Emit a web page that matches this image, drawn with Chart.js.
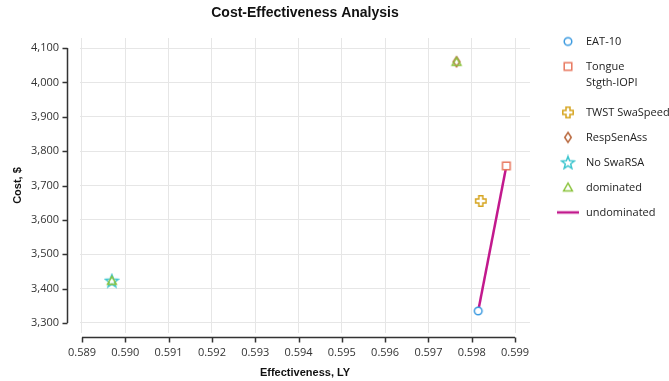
<!DOCTYPE html>
<html>
<head>
<meta charset="utf-8">
<script src="https://cdn.jsdelivr.net/npm/chart.js@4.4.1/dist/chart.umd.min.js"></script>
<style>
  html, body { margin: 0; padding: 0; background: #fff; }
  #wrap { width: 669px; height: 381px; position: relative; }
</style>
</head>
<body>
<div id="wrap"><canvas id="cea"></canvas></div>
<script>
// ---------------- Data ----------------
const strategies = ["EAT-10", ["Tongue", "Stgth-IOPI"], "TWST SwaSpeed", "RespSenAss", "No SwaRSA"];
const effectiveness = [0.59815, 0.59880, 0.59821, 0.59765, 0.58969];
const cost = [3335, 3757, 3655, 4060, 3423];

// dominated strategies (RespSenAss, No SwaRSA)
const dominatedEff = [0.59765, 0.58969];
const dominatedCost = [4060, 3423];

// frontier (EAT-10 -> Tongue Stgth-IOPI)
const frontierEff = [0.59815, 0.59880];
const frontierCost = [3335, 3757];

const xTicksFrom = 0.589, xTicksTo = 0.599, xStep = 0.001;
const yTicksFrom = 3300, yTicksTo = 4100, yStep = 100;

// ---------------- Styles ----------------
const markerShapes = ["circle", "square", "plus", "diamond", "star"];
const markerColors = ["#3d9be0", "#e8775e", "#d6a520", "#b8673c", "#3fc6cf"];
const dominatedColor = "#8cc43e";
const frontierColor = "#c2198d";
const font = "'Open Sans', 'DejaVu Sans', sans-serif";
const titleFont = "'Liberation Sans', Arial, sans-serif";

// small canvases used as point styles (chart + legend)
function makeMarker(shape, color) {
    const c = document.createElement("canvas");
    const s = 16;
    c.width = s; c.height = s;
    const g = c.getContext("2d");
    const m = s / 2;
    g.strokeStyle = color;
    g.fillStyle = "#fff";
    g.lineWidth = 1.5;
    g.lineJoin = "miter";
    g.beginPath();
    if (shape === "circle") {
        g.arc(m, m, 3.8, 0, Math.PI * 2);
    } else if (shape === "square") {
        g.rect(m - 3.8, m - 3.8, 7.6, 7.6);
    } else if (shape === "plus") {
        const a = 2, r = 5.2;
        const pts = [[-a,-r],[a,-r],[a,-a],[r,-a],[r,a],[a,a],[a,r],[-a,r],[-a,a],[-r,a],[-r,-a],[-a,-a]];
        pts.forEach((p, i) => i ? g.lineTo(m + p[0], m + p[1]) : g.moveTo(m + p[0], m + p[1]));
    } else if (shape === "diamond") {
        g.moveTo(m, m - 5); g.lineTo(m + 3.3, m); g.lineTo(m, m + 5); g.lineTo(m - 3.3, m);
    } else if (shape === "star") {
        for (let i = 0; i < 10; i++) {
            const r = i % 2 ? 2.8 : 6.6;
            const ang = -Math.PI / 2 + i * Math.PI / 5;
            const px = m + r * Math.cos(ang), py = m + 0.6 + r * Math.sin(ang);
            i ? g.lineTo(px, py) : g.moveTo(px, py);
        }
    } else if (shape === "triangle") {
        g.moveTo(m, m - 4.3); g.lineTo(m + 4.4, m + 3.5); g.lineTo(m - 4.4, m + 3.5);
    }
    g.closePath();
    if (shape === "circle" || shape === "square") g.fill();
    g.stroke();
    return c;
}

function makeLineMarker(color) {
    const c = document.createElement("canvas");
    c.width = 24; c.height = 6;
    const g = c.getContext("2d");
    g.strokeStyle = color;
    g.lineWidth = 2.5;
    g.beginPath(); g.moveTo(1, 3); g.lineTo(23, 3); g.stroke();
    return c;
}

// ---------------- Datasets ----------------
const datasets = strategies.map((name, i) => ({
    type: "scatter",
    label: name,
    data: [{ x: effectiveness[i], y: cost[i] }],
    pointStyle: makeMarker(markerShapes[i], markerColors[i]),
    pointRadius: 5,
    pointHoverRadius: 5,
    order: 2
}));

datasets.push({
    type: "scatter",
    label: "dominated",
    data: dominatedEff.map((x, i) => ({ x: x, y: dominatedCost[i] })),
    pointStyle: makeMarker("triangle", dominatedColor),
    pointRadius: 5,
    order: 1
});

datasets.push({
    type: "line",
    label: "undominated",
    data: frontierEff.map((x, i) => ({ x: x, y: frontierCost[i] })),
    borderColor: frontierColor,
    borderWidth: 2.5,
    pointRadius: 0,
    pointStyle: makeLineMarker(frontierColor),
    fill: false,
    order: 5
});

// ---------------- Detached axis lines ----------------
const axisLines = {
    id: "axisLines",
    afterDraw(chart) {
        const { ctx, chartArea, scales: { x, y } } = chart;
        ctx.save();
        ctx.strokeStyle = "#333";
        ctx.lineWidth = 1.5;
        // y axis
        const ax = Math.round(chartArea.left - 13) + 0.5;
        ctx.beginPath();
        ctx.moveTo(ax, y.getPixelForValue(yTicksTo));
        ctx.lineTo(ax, y.getPixelForValue(yTicksFrom));
        for (let v = yTicksFrom; v <= yTicksTo; v += yStep) {
            const py = Math.round(y.getPixelForValue(v)) + 0.5;
            ctx.moveTo(ax, py); ctx.lineTo(ax - 5, py);
        }
        ctx.stroke();
        // x axis
        const ay = Math.round(chartArea.bottom + 4) + 0.5;
        ctx.beginPath();
        ctx.moveTo(x.getPixelForValue(xTicksFrom), ay);
        ctx.lineTo(x.getPixelForValue(xTicksTo), ay);
        for (let i = 0; i <= Math.round((xTicksTo - xTicksFrom) / xStep); i++) {
            const px = Math.round(x.getPixelForValue(xTicksFrom + i * xStep)) + 0.5;
            ctx.moveTo(px, ay); ctx.lineTo(px, ay + 5);
        }
        ctx.stroke();
        ctx.restore();
    }
};

// ---------------- Chart ----------------
new Chart(document.getElementById("cea"), {
    type: "scatter",
    data: { datasets: datasets },
    plugins: [axisLines],
    options: {
        responsive: true,
        maintainAspectRatio: false,
        animation: false,
        layout: { padding: 0 },
        plugins: {
            title: {
                display: true,
                text: "Cost-Effectiveness Analysis",
                fullSize: false,
                color: "#111",
                font: { family: titleFont, size: 14, weight: "bold" },
                padding: { top: 4.5, bottom: 16.7 }
            },
            legend: {
                position: "right",
                align: "start",
                maxWidth: 127.5,
                title: { display: true, text: " ", font: { size: 10 }, padding: { top: 10, bottom: 0 } },
                labels: {
                    usePointStyle: true,
                    pointStyleWidth: 25,
                    boxHeight: 11,
                    padding: 14,
                    color: "#222",
                    font: { family: font, size: 11, lineHeight: 1.45 },
                    sort: (a, b) => a.datasetIndex - b.datasetIndex
                }
            },
            tooltip: { enabled: false }
        },
        scales: {
            x: {
                type: "linear",
                min: 0.588954,
                max: 0.599346,
                border: { display: false },
                grid: { color: "#e6e6e6", drawTicks: false },
                ticks: {
                    stepSize: xStep,
                    includeBounds: false,
                    padding: 13,
                    color: "#333",
                    font: { family: font, size: 11 },
                    callback: v => v.toFixed(3)
                },
                title: {
                    display: true,
                    text: "Effectiveness, LY",
                    color: "#111",
                    font: { family: titleFont, size: 11, weight: "bold" },
                    padding: { top: 0, bottom: 1 }
                },
                afterFit: s => { s.height = 48; }
            },
            y: {
                type: "linear",
                min: 3270.9,
                max: 4129.1,
                border: { display: false },
                grid: { color: "#e6e6e6", drawTicks: false },
                ticks: {
                    stepSize: yStep,
                    includeBounds: false,
                    padding: 21,
                    color: "#333",
                    font: { family: font, size: 11 },
                    callback: v => v.toLocaleString("en-US")
                },
                title: {
                    display: true,
                    text: "Cost, $",
                    color: "#111",
                    font: { family: titleFont, size: 11, weight: "bold" },
                    padding: { top: 11, bottom: 0 }
                },
                afterFit: s => { s.width = 80; }
            },
            gap: {
                type: "linear",
                position: "right",
                display: true,
                grid: { display: false },
                border: { display: false },
                ticks: { display: false },
                afterFit: s => { s.width = 11.5; }
            }
        }
    }
});
</script>
</body>
</html>
